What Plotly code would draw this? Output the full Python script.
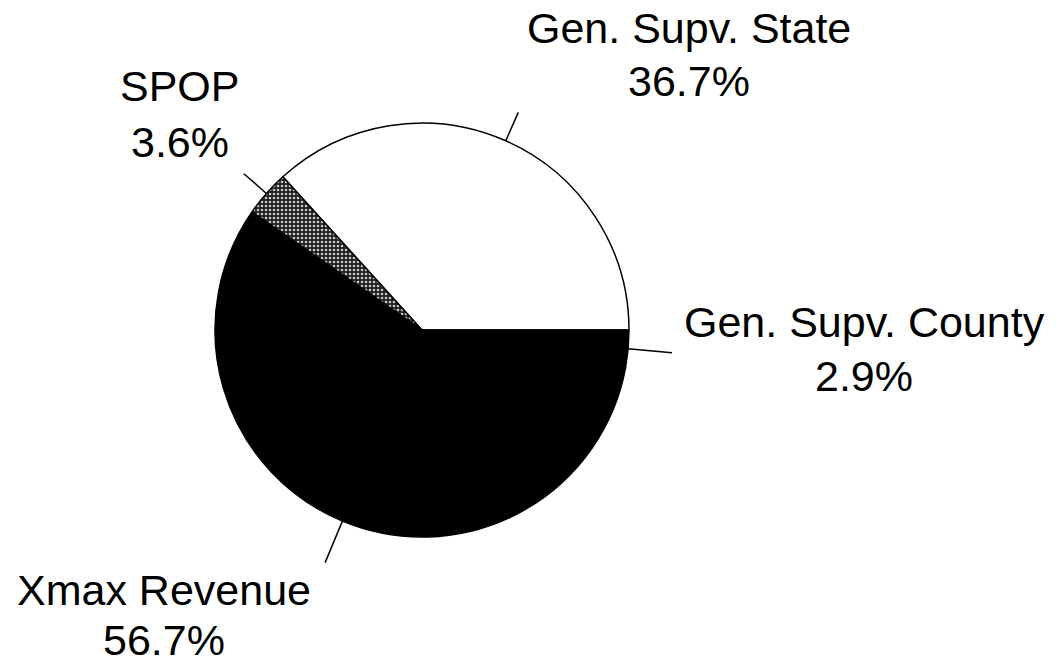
import math
import plotly.graph_objects as go

# ---- data ----
labels = ["Gen. Supv. State", "SPOP", "Xmax Revenue", "Gen. Supv. County"]
values = [36.7, 3.6, 56.7, 2.9]
pct_text = ["36.7%", "3.6%", "56.7%", "2.9%"]

# ---- layout / style ----
W, H = 1063, 665
CX, CY, R = 422, 330, 207          # pie centre and radius in pixels
slice_colors = ["#ffffff", "#3a3a3a", "#000000", "#000000"]
pattern_shapes = ["", ".", "", ""]
FONT = "Liberation Sans, Arial, sans-serif"
FSIZE = 43
# label centres (pixels): x centre, name line y, percent line y  (same order as labels)
label_pos = [(689, 28, 81), (180, 86, 142), (164, 590, 640), (864, 322, 376)]
leader_out = [238, 237, 252, 251]   # outer radius of each leader line

total = sum(values)
# plotly places the first counter-clockwise slice clockwise of `rotation`,
# so shift by its span to make it start at 3 o'clock and run upwards
first_span = values[0] / total * 360.0
rotation = 90 - first_span


def px(x):
    return x / W


def py(y):
    return 1 - y / H


fig = go.Figure()
fig.add_trace(go.Pie(
    labels=labels,
    values=values,
    sort=False,
    direction="counterclockwise",
    rotation=rotation,
    textinfo="none",
    hoverinfo="none",
    showlegend=False,
    marker=dict(
        colors=slice_colors,
        line=dict(color="#000000", width=1.5),
        pattern=dict(shape=pattern_shapes, fgcolor="#c8c8c8", bgcolor="#1e1e1e",
                     size=4, solidity=0.35),
    ),
    domain=dict(x=[px(CX - R), px(CX + R)], y=[py(CY + R), py(CY - R)]),
))

# leader lines and labels derived from the slice angles
start = 0.0
shapes = []
annotations = []
for i, v in enumerate(values):
    span = v / total * 360.0
    mid = math.radians(start + span / 2)
    start += span
    x0 = CX + R * math.cos(mid)
    y0 = CY - R * math.sin(mid)
    x1 = CX + leader_out[i] * math.cos(mid)
    y1 = CY - leader_out[i] * math.sin(mid)
    shapes.append(dict(type="line", xref="paper", yref="paper",
                       x0=px(x0), y0=py(y0), x1=px(x1), y1=py(y1),
                       line=dict(color="#000000", width=1.5)))
    lx, ny, ty = label_pos[i]
    annotations.append(dict(text=labels[i], x=px(lx), y=py(ny), xref="paper", yref="paper",
                            xanchor="center", yanchor="middle", showarrow=False,
                            font=dict(family=FONT, size=FSIZE, color="#000000")))
    annotations.append(dict(text=pct_text[i], x=px(lx), y=py(ty), xref="paper", yref="paper",
                            xanchor="center", yanchor="middle", showarrow=False,
                            font=dict(family=FONT, size=FSIZE, color="#000000")))

fig.update_layout(
    width=W, height=H,
    margin=dict(l=0, r=0, t=0, b=0),
    paper_bgcolor="#ffffff",
    plot_bgcolor="#ffffff",
    shapes=shapes,
    annotations=annotations,
)

fig.write_html("out.html",
               config={"displayModeBar": False},
               post_script="document.body.style.margin='0';document.body.style.overflow='hidden';")
